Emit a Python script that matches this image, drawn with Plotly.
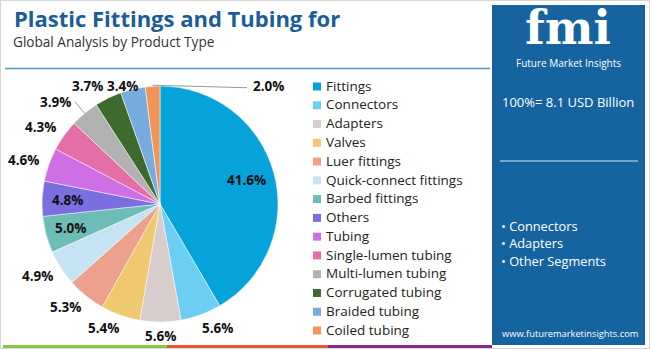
import math
import plotly.graph_objects as go

categories = ["Fittings", "Connectors", "Adapters", "Valves", "Luer fittings",
              "Quick-connect fittings", "Barbed fittings", "Others", "Tubing",
              "Single-lumen tubing", "Multi-lumen tubing", "Corrugated tubing",
              "Braided tubing", "Coiled tubing"]
shares = [41.6, 5.6, 5.6, 5.4, 5.3, 4.9, 5.0, 4.8, 4.6, 4.3, 3.9, 3.7, 3.4, 2.0]
colors = ["#05a3da", "#6dcef4", "#d7cdcc", "#efc870", "#eda18d", "#c6e3f3",
          "#6cbdb5", "#7a6ee0", "#cf6fe6", "#e56ea8", "#b1b1b1", "#3e6a2d",
          "#78acdf", "#f0965a"]
inside_labels = ["Fittings", "Barbed fittings", "Others"]

title = "Plastic Fittings and Tubing for"
subtitle = "Global Analysis by Product Type"
total_text = "100%= 8.1 USD Billion"
bullets = ["Connectors", "Adapters", "Other Segments"]
site = "www.futuremarketinsights.com"

W, H = 650, 349
FONT = "Open Sans"

# pie geometry (pixels)
CX, CY, R = 160, 204, 118
R_IN, R_OUT, R_TOP, SIDE_SHIFT = 93, 132, 165, 12
LABEL_TOP = 86

def px(x):
    return x / W

def py(y):
    return 1 - y / H

fig = go.Figure()
fig.add_trace(go.Pie(
    labels=categories, values=shares, sort=False, direction="clockwise",
    rotation=0, marker=dict(colors=colors, line=dict(color="white", width=0.5)),
    textinfo="none", showlegend=False,
    domain=dict(x=[px(CX - R), px(CX + R)], y=[py(CY + R), py(CY - R)]),
    hoverinfo="label+percent",
))

# legend drawn on a pixel-scaled overlay axis
LEG_X, LEG_Y0, LEG_STEP = 317, 86.5, 18.77
idx = list(range(len(categories)))
fig.add_trace(go.Scatter(
    x=[LEG_X] * len(categories), y=[LEG_Y0 + LEG_STEP * i for i in idx],
    mode="markers", marker=dict(symbol="square", size=8, color=colors),
    hoverinfo="skip", showlegend=False, cliponaxis=False))
fig.add_trace(go.Scatter(
    x=[LEG_X + 9] * len(categories), y=[LEG_Y0 + 0.8 + LEG_STEP * i for i in idx],
    mode="text", text=categories, textposition="middle right",
    textfont=dict(family=FONT, size=13.5, color="#222222"),
    hoverinfo="skip", showlegend=False, cliponaxis=False))

shapes = [
    dict(type="rect", xref="paper", yref="paper", x0=0, x1=1, y0=0, y1=1,
         line=dict(color="#d6d6d6", width=2), fillcolor="rgba(0,0,0,0)"),
    dict(type="line", xref="paper", yref="paper", x0=px(5), x1=px(490),
         y0=py(68.5), y1=py(68.5), line=dict(color="#4f96c9", width=1.5)),
    dict(type="line", xref="paper", yref="paper", x0=px(3), x1=px(167),
         y0=py(346.5), y1=py(346.5), line=dict(color="#8dc63f", width=3)),
    dict(type="line", xref="paper", yref="paper", x0=px(167), x1=px(328),
         y0=py(346.5), y1=py(346.5), line=dict(color="#e2572b", width=3)),
    dict(type="line", xref="paper", yref="paper", x0=px(328), x1=px(492),
         y0=py(346.5), y1=py(346.5), line=dict(color="#8b2a8b", width=3)),
    dict(type="rect", xref="paper", yref="paper", x0=px(492), x1=px(645),
         y0=py(345), y1=py(5), line=dict(width=0), fillcolor="#15649f", layer="below"),
    dict(type="line", xref="paper", yref="paper", x0=px(500), x1=px(638),
         y0=py(161), y1=py(161), line=dict(color="#dbe6f0", width=1)),
]

annotations = [
    dict(text=title, x=px(12), y=py(18), xref="paper", yref="paper",
         xanchor="left", yanchor="middle", showarrow=False,
         font=dict(family=FONT, size=22, color="#1a5d97", weight="bold")),
    dict(text=subtitle, x=px(11), y=py(42), xref="paper", yref="paper",
         xanchor="left", yanchor="middle", showarrow=False,
         font=dict(family=FONT, size=13.6, color="#333333")),
    dict(text="fmi", x=px(568), y=py(28.5), xref="paper", yref="paper",
         xanchor="center", yanchor="middle", showarrow=False,
         font=dict(family="DejaVu Serif", size=46, color="white", weight="bold")),
    dict(text="Future Market Insights", x=px(568), y=py(63.5), xref="paper", yref="paper",
         xanchor="center", yanchor="middle", showarrow=False,
         font=dict(family=FONT, size=10, color="white")),
    dict(text=total_text, x=px(568), y=py(102), xref="paper", yref="paper",
         xanchor="center", yanchor="middle", showarrow=False,
         font=dict(family=FONT, size=13, color="white")),
    dict(text=site, x=px(570), y=py(333), xref="paper", yref="paper",
         xanchor="center", yanchor="middle", showarrow=False,
         font=dict(family=FONT, size=9.3, color="white")),
]
for i, b in enumerate(bullets):
    annotations.append(dict(text="• " + b, x=px(499), y=py(226 + 17.3 * i),
                            xref="paper", yref="paper", xanchor="left", yanchor="middle",
                            showarrow=False, font=dict(family=FONT, size=12.8, color="white")))

# slice value labels, placed from the cumulative shares
total = sum(shares)
cum = 0.0
label_font = dict(family=FONT, size=13.5, color="#111111", weight="bold")
smallest = min(shares)
for cat, v in zip(categories, shares):
    mid = (cum + v / 2) / total * 2 * math.pi
    cum += v
    s, c = math.sin(mid), math.cos(mid)
    txt = f"{v:.1f}%"
    if cat in inside_labels:
        rr = R_IN if v < 20 else 90
        annotations.append(dict(text=txt, x=CX + rr * s, y=CY - rr * c, xref="x", yref="y",
                                showarrow=False, font=label_font))
    elif v == smallest:
        ex, ey = CX + (R + 1) * s, CY - (R + 1) * c
        lx, ly = CX + 87, ey + 2.5
        shapes.append(dict(type="line", xref="x", yref="y", x0=ex, y0=ey, x1=lx, y1=ly,
                           line=dict(color="#999999", width=1)))
        annotations.append(dict(text=txt, x=lx + 4, y=ly - 2, xref="x", yref="y",
                                xanchor="left", showarrow=False, font=label_font))
    elif v == 3.9:
        ex, ey = CX + R * s, CY - R * c
        lx, ly = CX + 133 * s, CY - 133 * c
        shapes.append(dict(type="line", xref="x", yref="y", x0=ex, y0=ey, x1=lx, y1=ly,
                           line=dict(color="#999999", width=1)))
        annotations.append(dict(text=txt, x=lx - 2, y=ly, xref="x", yref="y",
                                xanchor="right", showarrow=False, font=label_font))
    else:
        shift = SIDE_SHIFT * max(-1.0, min(1.0, s * 5))
        lx, ly = CX + R_OUT * s + shift, CY - R_OUT * c
        if ly < LABEL_TOP:
            lx, ly = CX + R_TOP * s, LABEL_TOP
        annotations.append(dict(text=txt, x=lx, y=ly, xref="x", yref="y",
                                showarrow=False, font=label_font))

fig.update_layout(
    width=W, height=H, margin=dict(l=0, r=0, t=0, b=0),
    paper_bgcolor="white", plot_bgcolor="rgba(0,0,0,0)",
    showlegend=False,
    xaxis=dict(range=[0, W], domain=[0, 1], visible=False, fixedrange=True),
    yaxis=dict(range=[H, 0], domain=[0, 1], visible=False, fixedrange=True),
    shapes=shapes, annotations=annotations,
)

fig.write_html("out.html")
